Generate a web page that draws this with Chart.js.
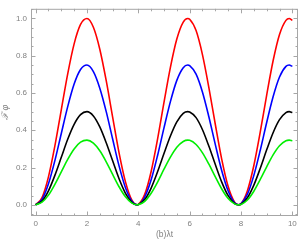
<!DOCTYPE html>
<html>
<head>
<meta charset="utf-8">
<script src="https://cdn.jsdelivr.net/npm/chart.js@4.4.1/dist/chart.umd.min.js"></script>
<style>
  html, body { margin: 0; padding: 0; background: #ffffff; }
  #wrap { width: 300px; height: 242px; }
</style>
</head>
<body>
<div id="wrap"><canvas id="c" width="300" height="242"></canvas></div>
<script>
// ---- data ----
const tValues = [0,0.25,0.5,0.75,1,1.25,1.5,1.75,2,2.25,2.5,2.75,3,3.25,3.5,3.75,3.95,4,4.25,4.5,4.75,5,5.25,5.5,5.75,5.925,6,6.25,6.5,6.75,7,7.25,7.5,7.75,7.9,8,8.25,8.5,8.75,9,9.25,9.5,9.75,9.875,10];
const redValues = [0,0.039,0.150,0.316,0.510,0.703,0.864,0.968,1.000,0.953,0.835,0.666,0.471,0.279,0.123,0.025,0,0.002,0.056,0.179,0.353,0.550,0.738,0.890,0.981,1.000,0.996,0.935,0.805,0.628,0.431,0.244,0.098,0.014,0,0.006,0.076,0.211,0.391,0.589,0.773,0.914,0.990,1.000,0.990];
const blueValues = [0,0.029,0.113,0.237,0.383,0.527,0.648,0.726,0.750,0.715,0.626,0.500,0.353,0.209,0.092,0.019,0,0.001,0.042,0.134,0.265,0.413,0.554,0.668,0.736,0.750,0.747,0.701,0.604,0.471,0.323,0.183,0.074,0.011,0,0.005,0.057,0.158,0.293,0.442,0.580,0.686,0.743,0.750,0.743];
const blackValues = [0,0.020,0.075,0.158,0.255,0.352,0.432,0.484,0.500,0.477,0.418,0.333,0.236,0.140,0.062,0.013,0,0.001,0.028,0.090,0.177,0.275,0.369,0.445,0.491,0.500,0.498,0.468,0.403,0.314,0.216,0.122,0.049,0.007,0,0.003,0.038,0.106,0.196,0.295,0.387,0.457,0.495,0.500,0.495];
const greenValues = [0,0.014,0.052,0.110,0.177,0.244,0.300,0.336,0.347,0.331,0.290,0.231,0.163,0.097,0.043,0.009,0,0.001,0.019,0.062,0.122,0.191,0.256,0.309,0.340,0.347,0.346,0.324,0.279,0.218,0.150,0.085,0.034,0.005,0,0.002,0.026,0.073,0.136,0.204,0.268,0.317,0.344,0.347,0.344];

const xMajorTicks = [0,2,4,6,8,10];
const xMinorTicks = [0.5,1,1.5,2.5,3,3.5,4.5,5,5.5,6.5,7,7.5,8.5,9,9.5];
const yMajorTicks = [0,0.2,0.4,0.6,0.8,1.0];
const yMinorTicks = [-0.05,0.05,0.1,0.15,0.25,0.3,0.35,0.45,0.5,0.55,0.65,0.7,0.75,0.85,0.9,0.95,1.05];
const xTitle = '(b)λt';
const yTitle = 'ℱ φ';

const frameColor = '#a6a6a6';
const labelColor = '#808080';
const FONT = '"Liberation Sans", Arial, sans-serif';

function series(vals) { return tValues.map((t, i) => ({ x: t, y: vals[i] })); }

function ds(label, vals, color) {
  return {
    label, data: series(vals), borderColor: color, backgroundColor: color,
    borderWidth: 1.6, pointRadius: 0, fill: false,
    cubicInterpolationMode: 'monotone'
  };
}

const framePlugin = {
  id: 'frame',
  beforeDatasetsDraw(chart) {
    const { ctx, chartArea: a, scales: { x, y } } = chart;
    ctx.save();
    ctx.strokeStyle = frameColor;
    ctx.lineWidth = 1;
    ctx.strokeRect(a.left + 0.5, a.top + 0.5, a.right - a.left - 1, a.bottom - a.top - 1);
    const tick = (px, len, vertical) => {
      ctx.beginPath();
      if (vertical) {
        ctx.moveTo(Math.round(px) + 0.5, a.bottom);
        ctx.lineTo(Math.round(px) + 0.5, a.bottom - len);
        ctx.moveTo(Math.round(px) + 0.5, a.top);
        ctx.lineTo(Math.round(px) + 0.5, a.top + len);
      } else {
        ctx.moveTo(a.left, Math.round(px) + 0.5);
        ctx.lineTo(a.left + len, Math.round(px) + 0.5);
        ctx.moveTo(a.right, Math.round(px) + 0.5);
        ctx.lineTo(a.right - len, Math.round(px) + 0.5);
      }
      ctx.stroke();
    };
    xMajorTicks.forEach(v => tick(x.getPixelForValue(v), 4.5, true));
    xMinorTicks.forEach(v => tick(x.getPixelForValue(v), 2.5, true));
    yMajorTicks.forEach(v => tick(y.getPixelForValue(v), 4.5, false));
    yMinorTicks.forEach(v => tick(y.getPixelForValue(v), 2.5, false));
    ctx.restore();
  }
};

new Chart(document.getElementById('c'), {
  type: 'line',
  data: {
    datasets: [
      ds('green', greenValues, '#00ee00'),
      ds('black', blackValues, '#000000'),
      ds('blue', blueValues, '#0000ff'),
      ds('red', redValues, '#ff0000')
    ]
  },
  options: {
    responsive: false,
    animation: false,
    devicePixelRatio: 1,
    layout: { padding: { top: 1, right: 2, left: 0, bottom: 0 } },
    plugins: { legend: { display: false }, tooltip: { enabled: false } },
    scales: {
      x: {
        type: 'linear', min: -0.18, max: 10.22,
        afterBuildTicks: s => { s.ticks = xMajorTicks.map(v => ({ value: v })); },
        afterFit: s => { s.height = 26; },
        grid: { display: false, drawTicks: false },
        border: { display: false },
        ticks: { color: labelColor, font: { family: FONT, size: 8 }, padding: 3, maxRotation: 0,
                 callback: v => String(v) },
        title: { display: true, text: xTitle, color: labelColor,
                 font: { family: FONT, size: 8.5 }, padding: { top: 0, bottom: 2 } }
      },
      y: {
        type: 'linear', min: -0.06, max: 1.052,
        afterBuildTicks: s => { s.ticks = yMajorTicks.map(v => ({ value: v })); },
        afterFit: s => { s.width = 31; },
        grid: { display: false, drawTicks: false },
        border: { display: false },
        ticks: { color: labelColor, font: { family: FONT, size: 8 }, padding: 4,
                 callback: v => Number(v).toFixed(1) },
        title: { display: true, text: yTitle, color: labelColor,
                 font: { family: FONT, size: 9, style: 'italic' }, padding: { top: 0, bottom: 2 } }
      }
    }
  },
  plugins: [framePlugin]
});
</script>
</body>
</html>
